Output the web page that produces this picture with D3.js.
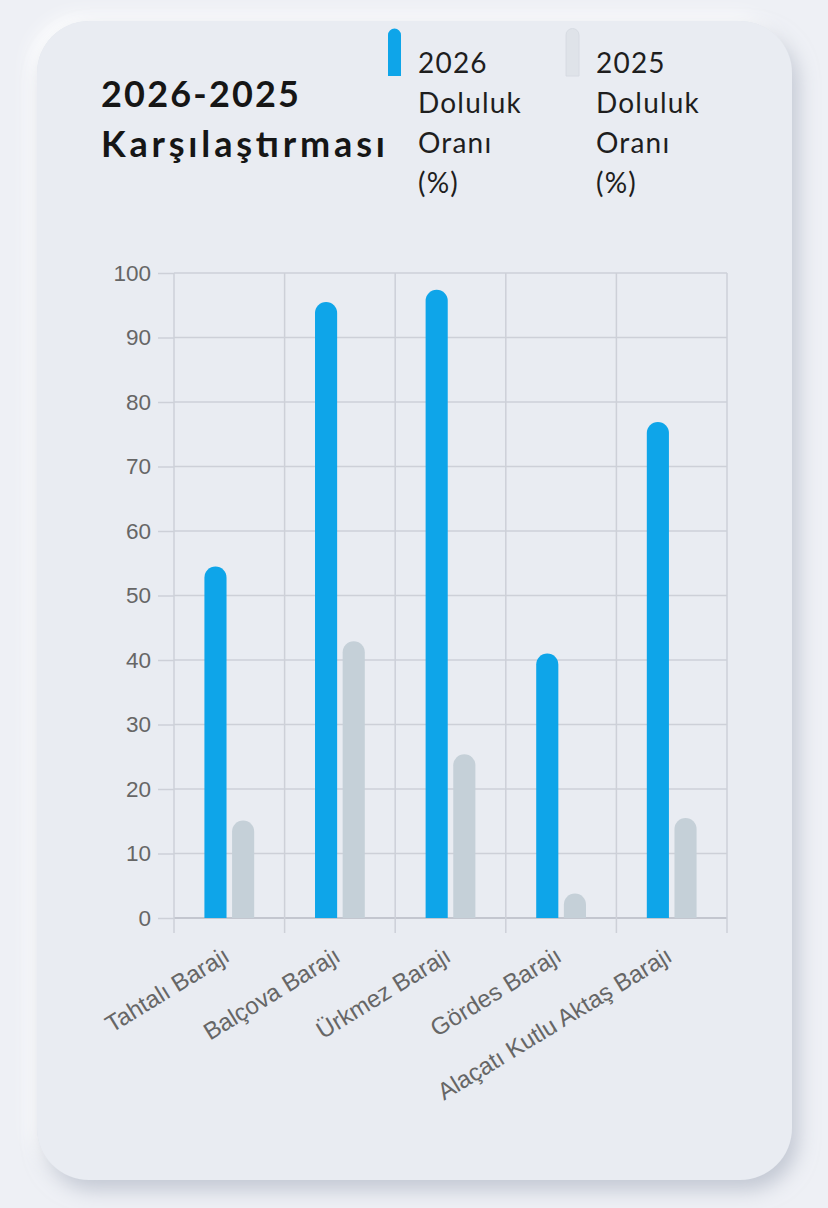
<!DOCTYPE html>
<html><head><meta charset="utf-8">
<script src="https://cdn.jsdelivr.net/npm/d3@7"></script>
<style>
html,body{margin:0;padding:0;background:#eef0f5;}
svg{display:block;}
</style></head>
<body>
<svg id="c" width="828" height="1208"></svg>
<script>
const categories = ["Tahtalı Barajı","Balçova Barajı","Ürkmez Barajı","Gördes Barajı","Alaçatı Kutlu Aktaş Barajı"];
const series = ["2026 Doluluk Oranı (%)","2025 Doluluk Oranı (%)"];
const values2026 = [54.5, 95.5, 97.4, 41.0, 76.9];
const values2025 = [15.1, 42.9, 25.4, 3.8, 15.5];
const yTicks = [0,10,20,30,40,50,60,70,80,90,100];
const colors = ["#0ea5e9","#c5d0d8"];

(function(){
const svg = d3.select("#c");
const defs = svg.append("defs");
const f = defs.append("filter").attr("id","sh").attr("x","-10%").attr("y","-10%").attr("width","125%").attr("height","125%");
f.append("feDropShadow").attr("dx",6).attr("dy",10).attr("stdDeviation",10).attr("flood-color","#b3b9c7").attr("flood-opacity",0.75);
const f2 = defs.append("filter").attr("id","hl").attr("x","-10%").attr("y","-10%").attr("width","125%").attr("height","125%");
f2.append("feDropShadow").attr("dx",-8).attr("dy",-6).attr("stdDeviation",8).attr("flood-color","#ffffff").attr("flood-opacity",0.9);

svg.append("rect").attr("width",828).attr("height",1208).attr("fill","#eef0f5");
svg.append("rect").attr("x",37).attr("y",21).attr("width",755).attr("height",1159).attr("rx",52)
  .attr("fill","#e9ecf2").attr("filter","url(#hl)");
svg.append("rect").attr("x",37).attr("y",21).attr("width",755).attr("height",1159).attr("rx",52)
  .attr("fill","#e9ecf2").attr("filter","url(#sh)");

// Title
const title = svg.append("text").attr("font-family","Lato, sans-serif").attr("font-weight",700)
  .attr("font-size",36).attr("fill","#161616");
title.append("tspan").attr("x",101).attr("y",107).attr("textLength",198).attr("lengthAdjust","spacing").text("2026-2025");
title.append("tspan").attr("x",101).attr("y",157).attr("textLength",284).attr("lengthAdjust","spacing").text("Karşılaştırması");

// Legend
const legX = [388, 566];
series.forEach((s,i)=>{
  const g = svg.append("g");
  g.append("path").attr("d", `M${legX[i]},76 V35 a6.5,6.5 0 0 1 13,0 V76 Z`).attr("fill", i===0?colors[0]:"#dfe3e9")
    .attr("stroke", i===0?"none":"#d3d8df").attr("stroke-width",0.8);
  const w = s.split(" ");
  const t = g.append("text").attr("font-family","Lato, sans-serif").attr("font-size",28)
    .attr("letter-spacing",1.2).attr("fill","#1e1e1e");
  w.forEach((ww,k)=>t.append("tspan").attr("x",legX[i]+30).attr("y",73+40*k).text(ww));
});

// Chart
const pL=174, pR=727, pT=273, pB=918;
const x0 = d3.scaleBand().domain(categories).range([pL,pR]).paddingInner(0).paddingOuter(0);
const bw = x0.bandwidth();
const x1 = d3.scaleBand().domain([0,1]).range([bw*0.275, bw*0.725]).paddingInner(0.2);
const y = d3.scaleLinear().domain([0,100]).range([pB,pT]);

const gridColor = "#cdd0d8";
const yAxis = svg.append("g").attr("transform",`translate(${pL},0)`)
  .call(d3.axisLeft(y).tickValues(yTicks).tickSize(16).tickPadding(7).tickFormat(d3.format("d")));
yAxis.select(".domain").remove();
yAxis.selectAll(".tick line").attr("stroke",gridColor).attr("stroke-width",1.5);
yAxis.selectAll(".tick text").attr("font-family","'Liberation Sans', Arial, sans-serif").attr("font-size",22.5).attr("fill","#666");
svg.append("g").selectAll("line").data(yTicks).join("line")
  .attr("x1",pL).attr("x2",pR).attr("y1",d=>y(d)).attr("y2",d=>y(d))
  .attr("stroke",d=>d===0?"#c3c6cf":gridColor).attr("stroke-width",d=>d===0?2:1.5);

const vx = categories.map(c=>x0(c)).concat([pR]);
svg.append("g").selectAll("line").data(vx).join("line")
  .attr("x1",d=>d).attr("x2",d=>d).attr("y1",pT).attr("y2",pB+15)
  .attr("stroke",gridColor).attr("stroke-width",1.5);

function barPath(xs, w, v){
  const yt = y(v), yb = y(0);
  const r = Math.min(w/2, (yb-yt));
  return `M${xs},${yb} V${yt+r} A${r},${r} 0 0 1 ${xs+w},${yt+r} V${yb} Z`;
}
const data = categories.map((c,i)=>({c, v:[values2026[i], values2025[i]]}));
const bars = svg.append("g");
data.forEach(d=>{
  [0,1].forEach(k=>{
    bars.append("path").attr("d", barPath(x0(d.c)+x1(k), x1.bandwidth(), d.v[k])).attr("fill",colors[k]);
  });
});

const xl = svg.append("g");
categories.forEach(c=>{
  const cx = x0(c)+bw/2;
  xl.append("text").attr("transform",`translate(${cx+2},${960}) rotate(-31.5)`)
    .attr("text-anchor","end")
    .attr("font-family","'Liberation Sans', Arial, sans-serif").attr("font-size",24).attr("fill","#666")
    .text(c);
});
})();
</script>
</body></html>
